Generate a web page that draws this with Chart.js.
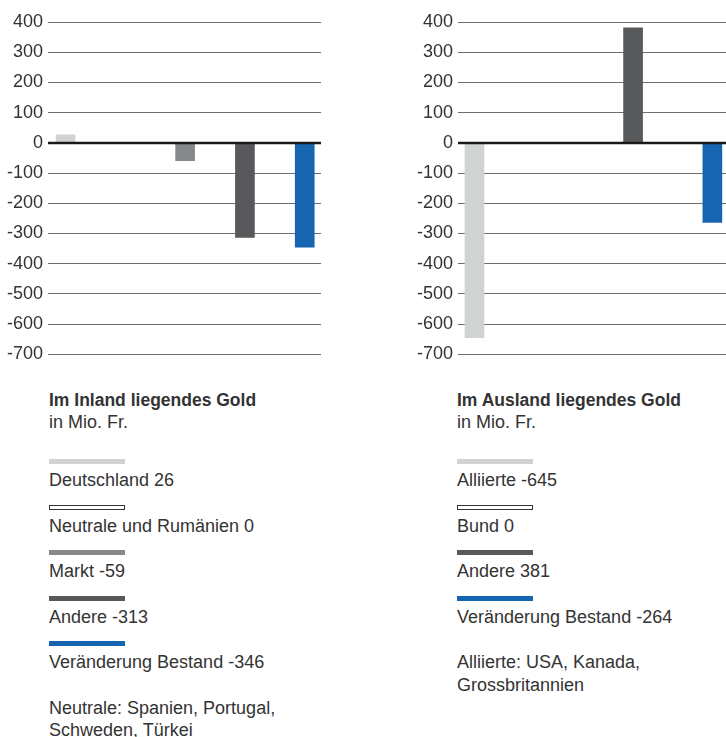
<!DOCTYPE html>
<html>
<head>
<meta charset="utf-8">
<script src="https://cdn.jsdelivr.net/npm/chart.js@4"></script>
<style>
  html, body { margin: 0; padding: 0; background: #fff; }
  body { width: 726px; height: 737px; overflow: hidden; position: relative;
         font-family: "Liberation Sans", Arial, sans-serif; color: #333; }
  .box { position: absolute; top: 0; width: 330px; height: 370px; }
  .txt { position: absolute; font-size: 18px; line-height: 23px; white-space: nowrap; }
  .title { font-weight: bold; font-size: 17.5px; }
  .sw { position: absolute; width: 76px; height: 5px; box-sizing: border-box; }
</style>
</head>
<body>
<div class="box" style="left:0"><canvas id="left" width="330" height="370"></canvas></div>
<div class="box" style="left:410px"><canvas id="right" width="330" height="370"></canvas></div>
<div id="legends"></div>
<script>
// Im Inland liegendes Gold, in Mio. Fr.
const leftCategories = ['Deutschland', 'Neutrale und Rumänien', 'Markt', 'Andere', 'Veränderung Bestand'];
const leftValues = [26, 0, -59, -313, -346];
const leftColors = ['#d1d2d4', '#ffffff', '#87888a', '#58595b', '#1565b0'];

// Im Ausland liegendes Gold, in Mio. Fr.
const rightCategories = ['Alliierte', 'Bund', 'Andere', 'Veränderung Bestand'];
const rightValues = [-645, 0, 381, -264];
const rightColors = ['#d1d2d4', '#ffffff', '#58595b', '#1565b0'];

const yMin = -700, yMax = 400, yStep = 100;
const FONT = '"Liberation Sans", Arial, sans-serif';

// black zero line drawn over the bars
const zeroLine = {
  id: 'zeroLine',
  afterDatasetsDraw(chart) {
    const y = Math.round(chart.scales.y.getPixelForValue(0));
    const a = chart.chartArea, ctx = chart.ctx;
    ctx.save();
    ctx.strokeStyle = '#1a1a1a';
    ctx.lineWidth = 2.5;
    ctx.beginPath();
    ctx.moveTo(a.left, y);
    ctx.lineTo(a.right, y);
    ctx.stroke();
    ctx.restore();
  }
};

function makeChart(id, values, colors, xMin, xMax) {
  return new Chart(document.getElementById(id), {
    type: 'bar',
    data: {
      datasets: [{
        data: values.map((v, i) => ({ x: i, y: v })),
        backgroundColor: colors,
        borderWidth: 0,
        barThickness: 19
      }]
    },
    options: {
      responsive: false,
      animation: false,
      layout: { padding: { top: 22, bottom: 15, left: 0, right: 9 } },
      plugins: { legend: { display: false }, tooltip: { enabled: false } },
      scales: {
        x: { type: 'linear', min: xMin, max: xMax, offset: false, display: false },
        y: {
          min: yMin, max: yMax,
          ticks: { stepSize: yStep, autoSkip: false, padding: 5, color: '#333',
                   font: { family: FONT, size: 18 } },
          grid: { color: '#6d6e71', lineWidth: 1, drawTicks: false },
          border: { display: false },
          afterFit(scale) { scale.width = 48; }
        }
      }
    },
    plugins: [zeroLine]
  });
}

makeChart('left', leftValues, leftColors, -0.293, 4.272);
makeChart('right', rightValues, rightColors, -0.208, 3.235);

// legends as html text
function legend(x, title, cats, values, colors, notes) {
  const host = document.getElementById('legends');
  const add = (cls, text, top) => {
    const d = document.createElement('div');
    d.className = 'txt ' + cls;
    d.textContent = text;
    d.style.left = x + 'px';
    d.style.top = top + 'px';
    host.appendChild(d);
  };
  add('title', title, 389);
  add('', 'in Mio. Fr.', 411);
  cats.forEach((c, i) => {
    const s = document.createElement('div');
    s.className = 'sw';
    s.style.left = x + 'px';
    s.style.top = (459 + i * 45.5) + 'px';
    if (colors[i] === '#ffffff') s.style.border = '1px solid #333';
    else s.style.background = colors[i];
    host.appendChild(s);
    add('', c + ' ' + values[i], 469 + i * 45.5);
  });
  notes.forEach((n, j) => add('', n, 469 + cats.length * 45.5 + j * 22.5));
}

legend(49, 'Im Inland liegendes Gold', leftCategories, leftValues, leftColors,
  ['Neutrale: Spanien, Portugal,', 'Schweden, Türkei']);
legend(457, 'Im Ausland liegendes Gold', rightCategories, rightValues, rightColors,
  ['Alliierte: USA, Kanada,', 'Grossbritannien']);
</script>
</body>
</html>
